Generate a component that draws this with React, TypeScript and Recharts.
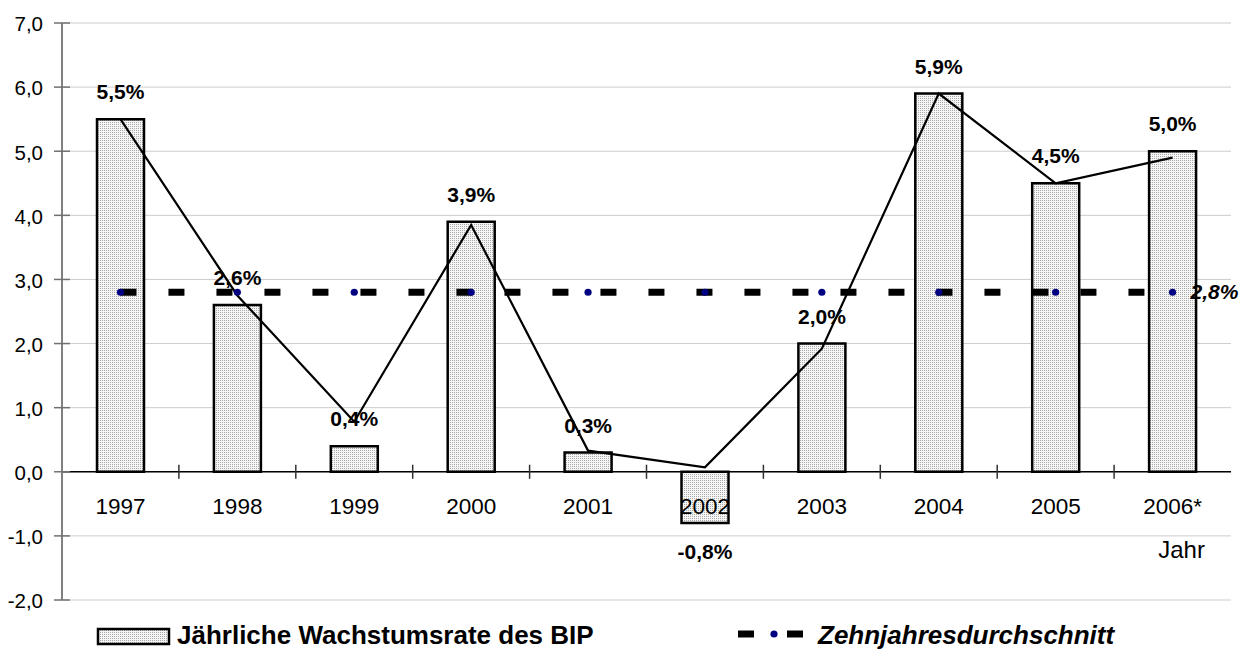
import React from 'react';
import {
  ComposedChart,
  Bar,
  Line,
  XAxis,
  YAxis,
  CartesianGrid,
  ReferenceLine,
  LabelList,
} from 'recharts';

// ---- data ----
const years = ['1997', '1998', '1999', '2000', '2001', '2002', '2003', '2004', '2005', '2006*'];
const growth = [5.5, 2.6, 0.4, 3.9, 0.3, -0.8, 2.0, 5.9, 4.5, 5.0];
const trend = [5.5, 2.75, 0.78, 3.85, 0.33, 0.07, 1.92, 5.9, 4.5, 4.9];
const average = [2.8, 2.8, 2.8, 2.8, 2.8, 2.8, 2.8, 2.8, 2.8, 2.8];
const yTicks = [-2, -1, 0, 1, 2, 3, 4, 5, 6, 7];
const barLegend = 'Jährliche Wachstumsrate des BIP';
const avgLegend = 'Zehnjahresdurchschnitt';
const xTitle = 'Jahr';

const data = years.map((year, i) => ({
  year,
  growth: growth[i],
  trend: trend[i],
  average: average[i],
}));

const FONT = '"Liberation Sans", Arial, Helvetica, sans-serif';
const fmt = (v: number) => v.toFixed(1).replace('.', ',');

const getBox = (props: any) => {
  const vb = props.viewBox && props.viewBox.width !== undefined ? props.viewBox : props;
  return {
    x: Number(vb.x ?? props.x),
    y: Number(vb.y ?? props.y),
    width: Number(vb.width ?? props.width ?? 0),
    height: Number(vb.height ?? props.height ?? 0),
  };
};

const YTick = (props: any) => {
  const { x, y, payload } = props;
  return (
    <g>
      <line x1={x - 8} x2={x + 8} y1={y} y2={y} stroke="#707070" strokeWidth={1.5} />
      <text
        x={x - 19}
        y={y + 1}
        dy="0.36em"
        textAnchor="end"
        fontFamily={FONT}
        fontSize={20.5}
        fill="#000"
      >
        {fmt(payload.value)}
      </text>
    </g>
  );
};

const ValueLabel = (props: any) => {
  const { x, y, width, height } = getBox(props);
  const idx = props.index;
  const v = growth[idx];
  const top = Math.min(y, y + height);
  const bottom = Math.max(y, y + height);
  const cx = x + width / 2;
  const ty = v >= 0 ? top - 20 : bottom + 36;
  return (
    <text x={cx} y={ty} textAnchor="middle" fontFamily={FONT} fontWeight="bold" fontSize={21} fill="#000">
      {fmt(v) + '%'}
    </text>
  );
};

const YearLabel = (props: any) => {
  const { x, y, width, height } = getBox(props);
  const idx = props.index;
  const v = growth[idx];
  const zeroY = v >= 0 ? Math.max(y, y + height) : Math.min(y, y + height);
  const cx = x + width / 2;
  return (
    <g>
      <text x={cx} y={zeroY + 42} textAnchor="middle" fontFamily={FONT} fontSize={22.5} fill="#000">
        {years[idx]}
      </text>
      {idx === years.length - 1 ? (
        <text x={cx + 9} y={zeroY + 86} textAnchor="middle" fontFamily={FONT} fontSize={24} fill="#000">
          {xTitle}
        </text>
      ) : null}
    </g>
  );
};

const AvgLabel = (props: any) => {
  if (props.index !== years.length - 1) return null;
  const x = Number(props.x ?? props.viewBox?.x);
  const y = Number(props.y ?? props.viewBox?.y);
  return (
    <text
      x={x + 18}
      y={y + 7}
      fontFamily={FONT}
      fontWeight="bold"
      fontStyle="italic"
      fontSize={21}
      fill="#000"
    >
      {fmt(average[props.index]) + '%'}
    </text>
  );
};

export default function App() {
  return (
    <div style={{ position: 'absolute', left: 0, top: 0, width: 1246, height: 650, background: '#fff' }}>
      <ComposedChart
        width={1246}
        height={650}
        data={data}
        margin={{ top: 23, right: 15, bottom: 50, left: 0 }}
      >
        <defs>
          <pattern id="dotfill" width="2" height="2" patternUnits="userSpaceOnUse">
            <rect width="2" height="2" fill="#f6f6f6" />
            <rect width="1" height="1" fill="#a9a9a9" />
          </pattern>
        </defs>
        <CartesianGrid vertical={false} stroke="#cccccc" strokeWidth={1} />
        <XAxis dataKey="year" type="category" hide />
        <YAxis
          type="number"
          domain={[-2, 7]}
          ticks={yTicks}
          interval={0}
          width={62}
          allowDataOverflow
          axisLine={{ stroke: '#808080', strokeWidth: 2 }}
          tickLine={false}
          tickSize={0}
          tickMargin={0}
          tick={(p: any) => <YTick {...p} />}
        />
        <Bar
          dataKey="growth"
          barSize={47}
          fill="url(#dotfill)"
          stroke="#000"
          strokeWidth={2.5}
          isAnimationActive={false}
        >
          <LabelList dataKey="year" content={(p: any) => <YearLabel {...p} />} />
          <LabelList dataKey="growth" content={(p: any) => <ValueLabel {...p} />} />
        </Bar>
        <ReferenceLine y={0} stroke="#000" strokeWidth={1.5} />
        {years.map((yr) => (
          <ReferenceLine
            key={'t' + yr}
            segment={[
              { x: yr, y: 0.11 },
              { x: yr, y: -0.11 },
            ]}
            position="start"
            stroke="#333"
            strokeWidth={1.5}
          />
        ))}
        <ReferenceLine
          segment={[
            { x: years[years.length - 1], y: 0.11 },
            { x: years[years.length - 1], y: -0.11 },
          ]}
          position="end"
          stroke="#333"
          strokeWidth={1.5}
        />
        <Line
          dataKey="trend"
          type="linear"
          stroke="#000"
          strokeWidth={2.2}
          dot={false}
          activeDot={false}
          isAnimationActive={false}
        />
        <Line
          dataKey="average"
          type="linear"
          stroke="#000"
          strokeWidth={7}
          strokeDasharray="16 32"
          dot={{ r: 3.6, fill: '#000080', stroke: 'none', strokeWidth: 0 }}
          activeDot={false}
          isAnimationActive={false}
        >
          <LabelList dataKey="average" content={(p: any) => <AvgLabel {...p} />} />
        </Line>
      </ComposedChart>
      <svg
        width={1246}
        height={650}
        style={{ position: 'absolute', left: 0, top: 0, pointerEvents: 'none' }}
      >
        <defs>
          <pattern id="dotfill2" width="2" height="2" patternUnits="userSpaceOnUse">
            <rect width="2" height="2" fill="#f6f6f6" />
            <rect width="1" height="1" fill="#a9a9a9" />
          </pattern>
        </defs>
        <rect x={98} y={629} width={71} height={15} fill="url(#dotfill2)" stroke="#000" strokeWidth={2.5} />
        <text x={177} y={644} fontFamily={FONT} fontWeight="bold" fontSize={26} fill="#000">
          {barLegend}
        </text>
        <line x1={738} x2={754} y1={634} y2={634} stroke="#000" strokeWidth={7} />
        <circle cx={774} cy={634} r={3.6} fill="#000080" />
        <line x1={787} x2={803} y1={634} y2={634} stroke="#000" strokeWidth={7} />
        <text
          x={818}
          y={644}
          fontFamily={FONT}
          fontWeight="bold"
          fontStyle="italic"
          fontSize={26}
          fill="#000"
        >
          {avgLegend}
        </text>
      </svg>
    </div>
  );
}
